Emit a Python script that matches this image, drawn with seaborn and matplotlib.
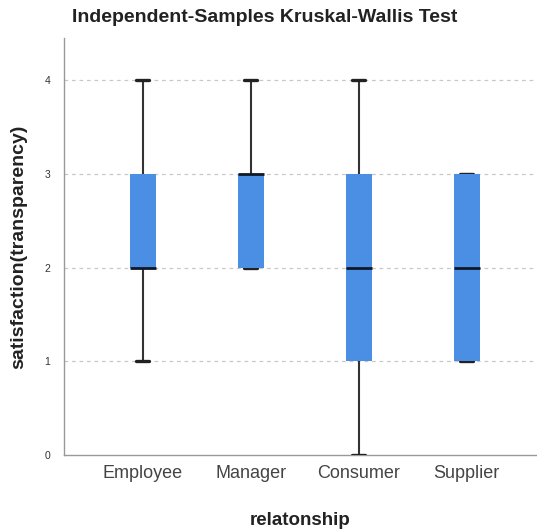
import matplotlib
matplotlib.use("Agg")
import matplotlib.pyplot as plt
import seaborn as sns
import pandas as pd

categories = ["Employee", "Manager", "Consumer", "Supplier"]
employee = [1, 2, 2, 2, 3, 3, 4]
manager = [2, 2, 2, 3, 3, 3, 4]
consumer = [0, 1, 1, 2, 3, 3, 4]
supplier = [1, 1, 2, 3, 3]
yticks = [0, 1, 2, 3, 4]

rows = []
for cat, vals in zip(categories, [employee, manager, consumer, supplier]):
    for v in vals:
        rows.append({"relatonship": cat, "satisfaction(transparency)": v})
df = pd.DataFrame(rows)

sns.set_style("white")
plt.rcParams["font.family"] = ["Liberation Sans", "DejaVu Sans"]

fig = plt.figure(figsize=(5.37, 5.29), dpi=100)
ax = fig.add_axes([64/537, 1-455/529, 1-64/537, (455-38)/529])

box_color = "#4a8fe3"
sns.boxplot(data=df, x="relatonship", y="satisfaction(transparency)", order=categories,
            color=box_color, width=0.24, whis=1.5, showfliers=False, ax=ax,
            boxprops=dict(facecolor=box_color, edgecolor=box_color, linewidth=0),
            medianprops=dict(color="#101828", linewidth=2),
            whiskerprops=dict(color="#333333", linewidth=1.5),
            capprops=dict(color="#222222", linewidth=2.4),
            zorder=3)

# draw caps beneath the boxes so caps at box edges blend in; narrow the caps
for patch in ax.patches:
    patch.set_zorder(4)
for line in ax.lines:
    xd = list(line.get_xdata())
    yd = list(line.get_ydata())
    if len(xd) == 2 and yd[0] == yd[1]:
        x0, x1 = xd
        if abs(x1 - x0) < 0.2:  # caps
            c = (x0 + x1) / 2
            line.set_xdata([c - 0.06, c + 0.06])
            line.set_zorder(3)
        else:  # medians
            line.set_zorder(5)

ax.set_ylim(0, 4.45)
ax.set_xlim(-0.73, 3.65)
ax.set_yticks(yticks)
ax.set_yticklabels([str(t) for t in yticks], fontsize=7.5, color="#333333")
ax.tick_params(axis="x", labelsize=13, colors="#444444", length=0, pad=7)
ax.tick_params(axis="y", length=0, pad=10)
for t in [1, 2, 3, 4]:
    ax.axhline(t, color="#c8c8c8", linestyle=(0, (3, 3)), linewidth=0.9, zorder=1)
for s in ["top", "right"]:
    ax.spines[s].set_visible(False)
for s in ["left", "bottom"]:
    ax.spines[s].set_color("#999999")
    ax.spines[s].set_linewidth(1.0)

ax.set_xlabel("relatonship", fontsize=13.5, fontweight="bold", color="#222222", labelpad=22)
ax.set_ylabel("satisfaction(transparency)", fontsize=14, fontweight="bold", color="#222222", labelpad=12)
fig.text(265/537, 1-17/529, "Independent-Samples Kruskal-Wallis Test", ha="center", va="center",
         fontsize=14, fontweight="bold", color="#222222")

fig.savefig("out.png", dpi=100)
